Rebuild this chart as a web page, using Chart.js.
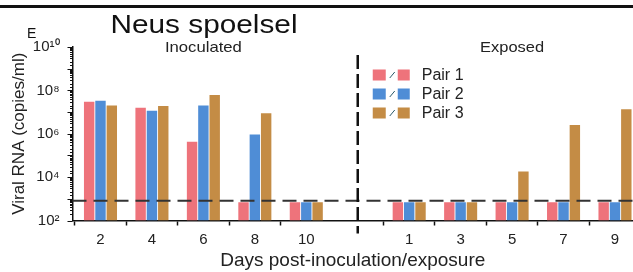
<!DOCTYPE html>
<html>
<head>
<meta charset="utf-8">
<script src="https://cdn.jsdelivr.net/npm/chart.js@4.4.1/dist/chart.umd.min.js"></script>
<style>
  html, body { margin: 0; padding: 0; background: #fff; }
  #wrap { width: 633px; height: 272px; position: relative; }
</style>
</head>
<body>
<div id="wrap"><canvas id="rnaChart"></canvas></div>
<script>
// ---- Data ----
const dayLabels = ['2', '4', '6', '8', '10', '', '1', '3', '5', '7', '9'];
const slotIndex = [0, 1, 2, 3, 4, 6, 7, 8, 9, 10];
const LOD_BAR = 690;       // bars drawn at detection limit
const LOD_LINE = 810;      // dashed detection-limit line
const pair1 = [3.0e7, 1.6e7, 4.3e5, LOD_BAR, LOD_BAR, LOD_BAR, LOD_BAR, LOD_BAR, LOD_BAR, LOD_BAR];
const pair2 = [3.3e7, 1.15e7, 2.0e7, 9.3e5, LOD_BAR, LOD_BAR, LOD_BAR, LOD_BAR, LOD_BAR, LOD_BAR];
const pair3 = [2.0e7, 1.9e7, 6.2e7, 8.7e6, LOD_BAR, LOD_BAR, LOD_BAR, 1.8e4, 2.5e6, 1.35e7];
const seriesNames = ['Pair 1', 'Pair 2', 'Pair 3'];
const seriesColors = ['#ee737b', '#4f8dd6', '#c48c45'];

const FONT = "'Liberation Sans', Arial, sans-serif";
const sup = { '0': '⁰', '1': '¹', '2': '²', '4': '⁴', '6': '⁶', '8': '⁸' };

const toPoints = vals => vals.map((v, i) => ({ x: slotIndex[i], y: v }));

// draw text squeezed/stretched to a given width
function fitText(ctx, txt, cx, cy, w) {
    const m = ctx.measureText(txt).width;
    ctx.save();
    ctx.translate(cx, cy);
    ctx.scale(w / m, 1);
    ctx.textAlign = 'center';
    ctx.fillText(txt, 0, 0);
    ctx.restore();
}

// ---- Extra drawing: titles, legend, dashed lines, y ticks ----
const decorPlugin = {
    id: 'decor',
    afterDraw(chart) {
        const { ctx, chartArea, scales } = chart;
        const xs = scales.x, ys = scales.y;
        ctx.save();

        // top rule
        ctx.fillStyle = '#111';
        ctx.fillRect(0, 5, chart.width, 3);

        // texts
        ctx.fillStyle = '#111';
        ctx.textBaseline = 'alphabetic';
        ctx.textAlign = 'left';
        ctx.font = `14px ${FONT}`;
        ctx.fillText('E', 27, 38);
        ctx.font = `25px ${FONT}`;
        fitText(ctx, 'Neus spoelsel', 204, 33, 187);
        ctx.textBaseline = 'middle';
        ctx.textAlign = 'center';
        ctx.font = `15px ${FONT}`;
        ctx.fillStyle = '#222';
        fitText(ctx, 'Inoculated', xs.getPixelForValue(2), 48, 77);
        fitText(ctx, 'Exposed', xs.getPixelForValue(8), 48, 64);

        // y axis ticks (major longer)
        ctx.strokeStyle = '#111';
        ctx.lineWidth = 1;
        ys.ticks.forEach(t => {
            const py = Math.round(ys.getPixelForValue(t.value)) + 0.5;
            const e = Math.log10(t.value);
            const major = Math.abs(e - Math.round(e)) < 1e-9;
            const len = major ? 5 : 2.5;
            ctx.beginPath();
            ctx.moveTo(chartArea.left - len, py);
            ctx.lineTo(chartArea.left, py);
            ctx.stroke();
        });

        // detection limit line
        const ly = ys.getPixelForValue(LOD_LINE);
        ctx.strokeStyle = '#333';
        ctx.lineWidth = 2;
        ctx.setLineDash([14, 7]);
        ctx.beginPath();
        ctx.moveTo(chartArea.left, ly);
        ctx.lineTo(chartArea.right, ly);
        ctx.stroke();

        // divider between inoculated / exposed
        const dx = xs.getPixelForValue(5);
        ctx.strokeStyle = '#111';
        ctx.lineWidth = 2.5;
        ctx.setLineDash([14, 5]);
        ctx.beginPath();
        ctx.moveTo(dx, chartArea.top + 8);
        ctx.lineTo(dx, chartArea.bottom + 13);
        ctx.stroke();
        ctx.setLineDash([]);

        // legend
        const lx = dx + 15;
        chart.data.datasets.forEach((ds, i) => {
            const cy = 75 + i * 19;
            ctx.fillStyle = ds.backgroundColor;
            ctx.fillRect(lx, cy - 5.5, 13, 11);
            ctx.fillRect(lx + 25, cy - 5.5, 12, 11);
            ctx.strokeStyle = '#2b5a6a';
            ctx.lineWidth = 1;
            ctx.beginPath();
            ctx.moveTo(lx + 17, cy + 3);
            ctx.lineTo(lx + 22, cy - 3);
            ctx.stroke();
            ctx.fillStyle = '#222';
            ctx.textAlign = 'left';
            ctx.textBaseline = 'middle';
            ctx.font = `16px ${FONT}`;
            ctx.fillText(ds.label, lx + 49, cy + 1);
        });

        ctx.restore();
    }
};

const ctx = document.getElementById('rnaChart').getContext('2d');
window.rnaChart = new Chart(ctx, {
    type: 'bar',
    data: {
        datasets: seriesNames.map((name, i) => ({
            label: name,
            data: toPoints([pair1, pair2, pair3][i]),
            backgroundColor: seriesColors[i],
            borderWidth: 0,
            categoryPercentage: 0.66,
            barPercentage: 0.92
        }))
    },
    options: {
        responsive: true,
        maintainAspectRatio: false,
        animation: false,
        layout: { padding: { top: 47, right: 0, left: 0, bottom: 0 } },
        plugins: { legend: { display: false }, tooltip: { enabled: false } },
        scales: {
            x: {
                type: 'linear',
                offset: false,
                min: -0.544,
                max: 10.35,
                afterFit: s => { s.height = 51.5; },
                border: { display: true, color: '#111', width: 1.5 },
                grid: {
                    drawOnChartArea: false,
                    tickLength: 5,
                    tickColor: c => (c.tick && c.tick.value === 5 ? 'rgba(0,0,0,0)' : '#111'),
                    tickWidth: 1.5
                },
                ticks: {
                    stepSize: 1,
                    includeBounds: false,
                    autoSkip: false,
                    maxRotation: 0,
                    padding: 5,
                    color: '#222',
                    font: { family: FONT, size: 15 },
                    callback: v => (Number.isInteger(v) ? dayLabels[v] : '')
                },
                title: {
                    display: true,
                    text: 'Days post-inoculation/exposure',
                    color: '#222',
                    font: { family: FONT, size: 19 },
                    padding: { top: 0, bottom: 0 }
                }
            },
            y: {
                type: 'logarithmic',
                min: 100,
                max: 1e10,
                afterFit: s => { s.width = 72.5; },
                border: { display: true, color: '#111', width: 1.5 },
                grid: { display: false },
                ticks: {
                    autoSkip: false,
                    padding: 5,
                    color: '#222',
                    font: { family: FONT, size: 15 },
                    callback: v => {
                        const e = Math.round(Math.log10(v));
                        if (Math.abs(Math.log10(v) - e) > 1e-9 || e % 2 !== 0) return '';
                        return '10' + String(e).split('').map(d => sup[d]).join('');
                    }
                },
                title: {
                    display: true,
                    text: 'Viral RNA (copies/ml)',
                    color: '#222',
                    font: { family: FONT, size: 17 },
                    padding: { top: 9, bottom: 0 }
                }
            }
        }
    },
    plugins: [decorPlugin]
});
</script>
</body>
</html>
